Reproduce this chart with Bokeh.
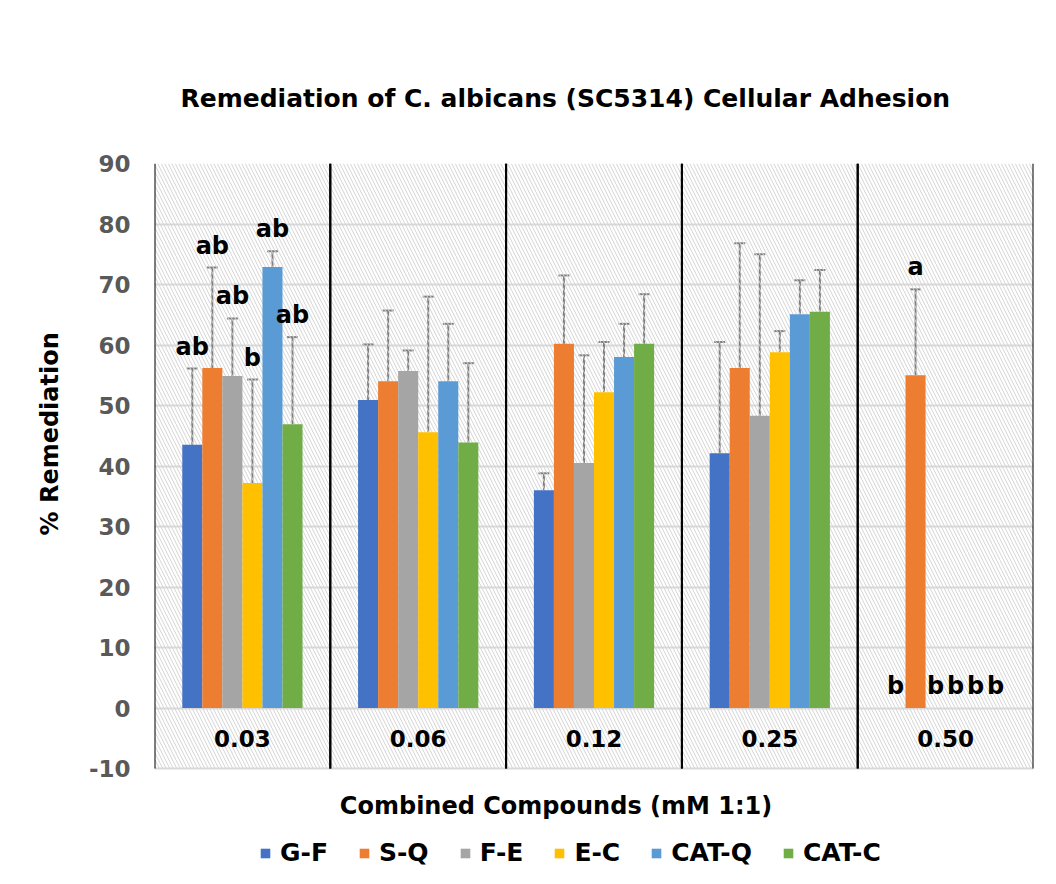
from bokeh.plotting import figure
from bokeh.models import (ColumnDataSource, FactorRange, Range1d, FixedTicker, Whisker, TeeHead,
                          LabelSet, Label, Legend, LegendItem, Title)
from bokeh.transform import dodge
from bokeh.core.properties import value
from bokeh.embed import file_html
from bokeh.resources import INLINE

# ---- data ----
cats = ["0.03", "0.06", "0.12", "0.25", "0.50"]
series = ["G-F", "S-Q", "F-E", "E-C", "CAT-Q", "CAT-C"]

gf = [43.5, 50.9, 36.0, 42.1, 0.0]
gf_err = [12.6, 9.2, 2.8, 18.4, 0.0]
sq = [56.2, 54.0, 60.2, 56.2, 55.0]
sq_err = [16.6, 11.7, 11.3, 20.6, 14.2]
fe = [54.9, 55.7, 40.5, 48.3, 0.0]
fe_err = [9.5, 3.4, 17.8, 26.7, 0.0]
ec = [37.2, 45.6, 52.2, 58.8, 0.0]
ec_err = [17.1, 22.4, 8.3, 3.5, 0.0]
catq = [72.9, 54.0, 58.0, 65.1, 0.0]
catq_err = [2.6, 9.5, 5.5, 5.6, 0.0]
catc = [46.9, 43.9, 60.2, 65.5, 0.0]
catc_err = [14.4, 13.1, 8.2, 6.9, 0.0]

gf_sig = ["ab", "", "", "", "b"]
sq_sig = ["ab", "", "", "", "a"]
fe_sig = ["ab", "", "", "", "b"]
ec_sig = ["b", "", "", "", "b"]
catq_sig = ["ab", "", "", "", "b"]
catc_sig = ["ab", "", "", "", "b"]

y_ticks = [-10, 0, 10, 20, 30, 40, 50, 60, 70, 80, 90]
y_min, y_max = -10, 90

title_text = "Remediation of C. albicans (SC5314) Cellular Adhesion"
x_title = "Combined Compounds (mM 1:1)"
y_title = "% Remediation"

colors = ["#4472C4", "#ED7D31", "#A5A5A5", "#FFC000", "#5B9BD5", "#70AD47"]
means = [gf, sq, fe, ec, catq, catc]
errs = [gf_err, sq_err, fe_err, ec_err, catq_err, catc_err]
sigs = [gf_sig, sq_sig, fe_sig, ec_sig, catq_sig, catc_sig]

FONT = value("DejaVu Sans")
BAR_W = 0.114
offsets = [(i - 2.5) * BAR_W for i in range(6)]

# frame spans plot area plus the space for x title and legend below it
p = figure(x_range=FactorRange(factors=cats), y_range=Range1d(-28.5, y_max),
           width=1048, height=880, output_backend="svg", toolbar_location=None,
           x_axis_location=None,
           min_border_left=154, min_border_right=15, min_border_top=163, min_border_bottom=0)
p.outline_line_color = None
p.background_fill_color = "white"
p.border_fill_color = "white"

# hatched background per category
bg = ColumnDataSource(dict(cat=cats))
p.vbar(x="cat", width=1.0, bottom=y_min, top=y_max, source=bg, fill_alpha=0, line_alpha=0,
       hatch_pattern="\\", hatch_color="#d4d4d4", hatch_scale=7, hatch_weight=1)

# y grid
p.yaxis.ticker = FixedTicker(ticks=y_ticks)
p.ygrid.grid_line_color = "#d9d9d9"
p.ygrid.grid_line_width = 2
p.xgrid.grid_line_color = None

# category separators (left and right edges of each category)
for edge in (-0.5, 0.5):
    p.segment(x0=dodge("cat", edge, range=p.x_range), y0=y_min,
              x1=dodge("cat", edge, range=p.x_range), y1=y_max,
              source=bg, line_color="black", line_width=2)

# bars
items = []
for name, col, m, e, s, off in zip(series, colors, means, errs, sigs, offsets):
    src = ColumnDataSource(dict(cat=cats, top=m))
    r = p.vbar(x=dodge("cat", off, range=p.x_range), top="top", bottom=0, width=BAR_W,
               source=src, fill_color=col, line_color=None)
    items.append(LegendItem(label=name, renderers=[r]))
    ec_cats = [c for c, ee in zip(cats, e) if ee > 0]
    ec_lo = [mm for mm, ee in zip(m, e) if ee > 0]
    ec_hi = [mm + ee for mm, ee in zip(m, e) if ee > 0]
    esrc = ColumnDataSource(dict(cat=ec_cats, lo=ec_lo, hi=ec_hi))
    w = Whisker(base=dodge("cat", off, range=p.x_range), lower="lo", upper="hi", source=esrc,
                dimension="height", line_color="#7f7f7f", line_width=2,
                upper_head=TeeHead(size=11, line_color="#7f7f7f", line_width=2),
                lower_head=None)
    p.add_layout(w)
    l_cats = [c for c, ss in zip(cats, s) if ss]
    l_y = [mm + ee for mm, ee, ss in zip(m, e, s) if ss]
    l_t = [ss for ss in s if ss]
    lsrc = ColumnDataSource(dict(cat=l_cats, y=l_y, t=l_t))
    ls = LabelSet(x=dodge("cat", off, range=p.x_range), y="y", text="t", source=lsrc,
                  y_offset=8, text_align="center", text_baseline="bottom",
                  text_font=FONT, text_font_style="bold", text_font_size="24px",
                  text_color="black")
    p.add_layout(ls)

# category labels inside the plot
p.text(x="cat", y=-5, text="cat", source=bg, text_align="center", text_baseline="middle",
       text_font=FONT, text_font_style="bold", text_font_size="23px", text_color="black")

# y axis
ya = p.yaxis[0]
ya.axis_line_color = None
ya.major_tick_line_color = None
ya.minor_tick_line_color = None
ya.major_label_text_font = "DejaVu Sans"
ya.major_label_text_font_style = "bold"
ya.major_label_text_font_size = "23px"
ya.major_label_text_color = "#595959"
ya.major_label_standoff = 18
ya.major_label_overrides = {-10: "-10"}

yt = Title(text=y_title, align="left", offset=345, text_font="DejaVu Sans",
           text_font_style="bold", text_font_size="24px", text_color="black", standoff=44)
p.add_layout(yt, "left")

# title
p.title.text = title_text
p.title.align = "left"
p.title.offset = 26
p.title.text_font = "DejaVu Sans"
p.title.text_font_style = "bold"
p.title.text_font_size = "25px"
p.title.text_color = "black"
p.title.standoff = 102

# x axis title (below the plot area, inside the canvas)
xl = Label(x=2.284, y=-16.2, text=x_title, text_align="center", text_baseline="middle",
           text_font="DejaVu Sans", text_font_style="bold", text_font_size="24px",
           text_color="black")
p.add_layout(xl)

legend = Legend(items=items, orientation="horizontal", location=(105, 13),
                glyph_width=12, glyph_height=12, label_standoff=9, spacing=30,
                label_text_font="DejaVu Sans", label_text_font_style="bold",
                label_text_font_size="25px", label_text_color="black",
                border_line_color=None, background_fill_alpha=0, padding=0, margin=0)
p.add_layout(legend, "center")

open("out.html", "w").write(file_html(p, INLINE))
